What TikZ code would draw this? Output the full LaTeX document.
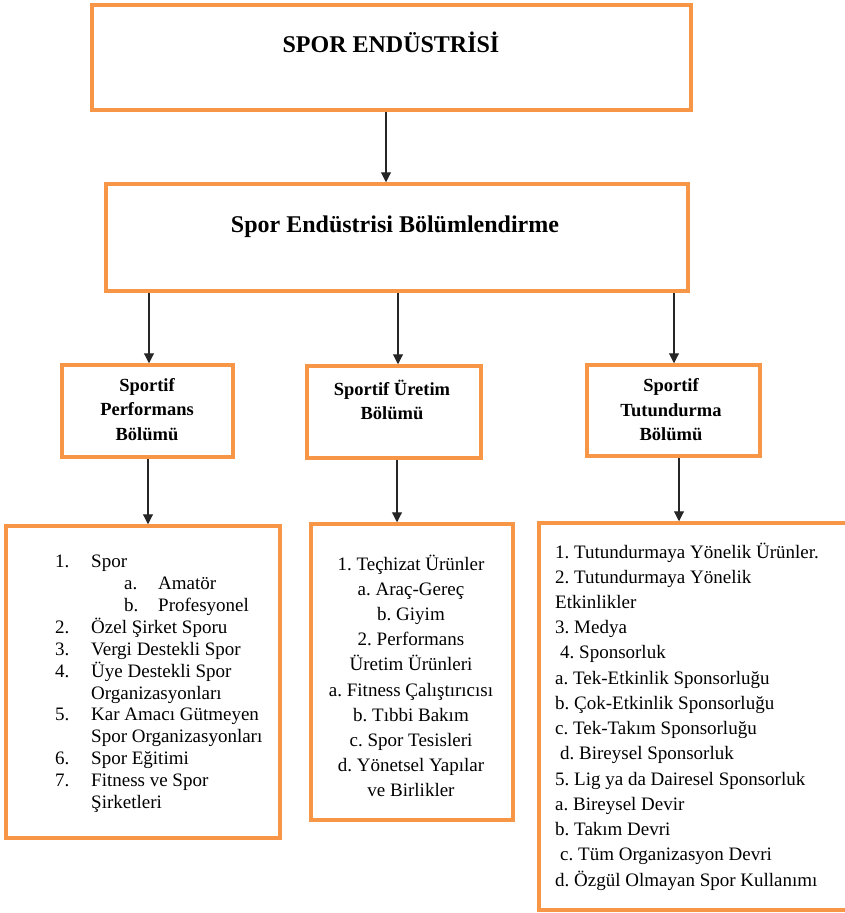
\documentclass[tikz,border=0pt]{standalone}
\usepackage{fontspec}
\setmainfont{Liberation Serif}
\usetikzlibrary{arrows.meta}
\definecolor{orng}{HTML}{F79646}
\begin{document}
\frenchspacing
\begin{tikzpicture}[x=1pt,y=-1pt,
  box/.style={draw=orng, line width=3.5pt, fill=white, inner sep=0pt, outer sep=0pt, anchor=north west},
  arr/.style={draw=black!85, line width=1.1pt, shorten <=1.75pt, shorten >=1.75pt, -{Triangle[width=10pt,length=10pt]}},
  titletext/.style={font=\fontsize{24}{28}\selectfont\bfseries, anchor=base, inner sep=0pt},
  headtext/.style={font=\fontsize{18.5}{24}\selectfont\bfseries, anchor=base, inner sep=0pt},
  listtext/.style={font=\fontsize{19}{22}\selectfont, anchor=base west, inner sep=0pt},
  ctext/.style={font=\fontsize{19}{22}\selectfont, anchor=base, inner sep=0pt},
]
\useasboundingbox (0,0) rectangle (845,913);
\fill[white] (0,0) rectangle (845,913);

% boxes
\node[box, minimum width=599pt, minimum height=105pt] (b1) at (92,5) {};
\node[box, minimum width=582pt, minimum height=107pt] (b2) at (106,184) {};
\node[box, minimum width=171pt, minimum height=92pt] (p1) at (62,365) {};
\node[box, minimum width=174pt, minimum height=92pt] (p2) at (307,366) {};
\node[box, minimum width=173pt, minimum height=91pt] (p3) at (587,365) {};
\node[box, minimum width=274pt, minimum height=312pt] (l1) at (6,526) {};
\node[box, minimum width=202pt, minimum height=296pt] (l2) at (311,524) {};
\node[box, minimum width=308pt, minimum height=387pt] (l3) at (539,523) {};

% connectors
\draw[arr] ([xshift=-5.5pt]b1.south) -- ([xshift=-5.5pt]b1.south |- b2.north);
\draw[arr] ([xshift=1.5pt]b2.south -| p1.north) -- ([xshift=1.5pt]p1.north);
\draw[arr] ([xshift=4pt]b2.south -| p2.north) -- ([xshift=4pt]p2.north);
\draw[arr] ([xshift=0.5pt]b2.south -| p3.north) -- ([xshift=0.5pt]p3.north);
\draw[arr] ([xshift=0.5pt]p1.south) -- ([xshift=0.5pt]p1.south |- l1.north);
\draw[arr] ([xshift=3pt]p2.south) -- ([xshift=3pt]p2.south |- l2.north);
\draw[arr] ([xshift=5.5pt]p3.south) -- ([xshift=5.5pt]p3.south |- l3.north);

% titles
\node[titletext] (t1) at (391,52) {SPOR ENDÜSTRİSİ};
\node[titletext] (t2) at (395,232) {Spor Endüstrisi Bölümlendirme};

% level 3 headings
\node[headtext] (h11) at (147,391) {Sportif};
\node[headtext] (h12) at (147,415) {Performans};
\node[headtext] (h13) at (147,440) {Bölümü};
\node[headtext] (h21) at (392,395) {Sportif Üretim};
\node[headtext] (h22) at (392,419) {Bölümü};
\node[headtext] (h31) at (671,391) {Sportif};
\node[headtext] (h32) at (671,416) {Tutundurma};
\node[headtext] (h33) at (671,440) {Bölümü};

% left list
\foreach \x/\y/\t [count=\i] in {
  55/567/1., 91/567/Spor,
  124/589/a., 158/589/Amatör,
  124/611/b., 158/611/Profesyonel,
  55/633/2., 91/633/Özel Şirket Sporu,
  55/655/3., 91/655/Vergi Destekli Spor,
  55/677/4., 91/677/Üye Destekli Spor,
  91/699/Organizasyonları,
  55/720/5., 91/720/Kar Amacı Gütmeyen,
  91/742/Spor Organizasyonları,
  55/764/6., 91/764/Spor Eğitimi,
  55/786/7., 91/786/Fitness ve Spor,
  91/808/Şirketleri}
  \node[listtext] (la\i) at (\x,\y) {\t};

% middle list
\foreach \t [count=\i] in {
  1. Teçhizat Ürünler,
  a. Araç-Gereç,
  b. Giyim,
  2. Performans,
  Üretim Ürünleri,
  a. Fitness Çalıştırıcısı,
  b. Tıbbi Bakım,
  c. Spor Tesisleri,
  d. Yönetsel Yapılar,
  ve Birlikler}
  \node[ctext] (lb\i) at (411,{570+25.2*(\i-1)}) {\t};

% right list
\foreach \x/\t [count=\i] in {
  555/1. Tutundurmaya Yönelik Ürünler.,
  555/2. Tutundurmaya Yönelik,
  555/Etkinlikler,
  555/3. Medya,
  560/4. Sponsorluk,
  555/a. Tek-Etkinlik Sponsorluğu,
  555/b. Çok-Etkinlik Sponsorluğu,
  555/c. Tek-Takım Sponsorluğu,
  560/d. Bireysel Sponsorluk,
  555/5. Lig ya da Dairesel Sponsorluk,
  555/a. Bireysel Devir,
  555/b. Takım Devri,
  560/c. Tüm Organizasyon Devri,
  555/d. Özgül Olmayan Spor Kullanımı}
  \node[listtext] (lc\i) at (\x,{558+25.23*(\i-1)}) {\t};
\end{tikzpicture}
\end{document}
